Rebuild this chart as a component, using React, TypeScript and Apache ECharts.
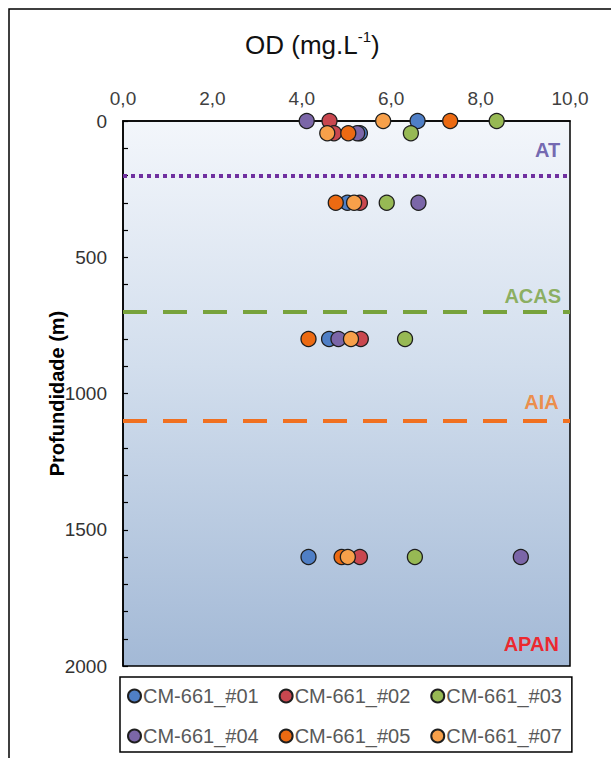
import React, { useEffect, useRef } from "react";
import * as echarts from "echarts";

// Sampling depths (m)
const depths = [0, 45, 300, 800, 1600];

// Dissolved oxygen (mg/L) per station, one value per depth
const seriesNames = ["CM-661_#01", "CM-661_#02", "CM-661_#03", "CM-661_#04", "CM-661_#05", "CM-661_#07"];
const st01 = [6.59, 5.3, 5.02, 4.61, 4.15];
const st02 = [4.62, 4.72, 5.3, 5.32, 5.3];
const st03 = [8.36, 6.44, 5.9, 6.31, 6.53];
const st04 = [4.11, 5.24, 6.61, 4.82, 8.9];
const st05 = [7.32, 5.04, 4.76, 4.15, 4.89];
const st07 = [5.82, 4.57, 5.17, 5.1, 5.03];
const stationValues = [st01, st02, st03, st04, st05, st07];
const stationColors = ["#4f7fc6", "#c9474f", "#97b954", "#7b66a8", "#ec6a12", "#f7a04a"];

// Water-mass boundaries (m)
const boundaryDepths = [200, 700, 1100];
const boundaryColors = ["#7030a0", "#77a23c", "#f07020"];
const boundaryDash = [[4, 4], [24, 16], [24, 16]];

// Water-mass labels
const massNames = ["AT", "ACAS", "AIA", "APAN"];
const massDepths = [106, 642, 1031, 1919];
const massX = [9.78, 9.8, 9.75, 9.75];
const massColors = ["#54449e", "#76a03a", "#f47a22", "#ff0000"];

const xTicks = { min: 0, max: 10, interval: 2 };
const yTicks = { min: 0, max: 2000, interval: 500 };

export default function App() {
  const ref = useRef<HTMLDivElement>(null);
  useEffect(() => {
    if (!ref.current) return;
    const chart = echarts.init(ref.current, null, { renderer: "svg" });
    const font = "Liberation Sans, Arial, sans-serif";

    const stationSeries = seriesNames.map((name, i) => ({
      name,
      type: "scatter",
      symbol: "circle",
      symbolSize: 15,
      clip: false,
      z: 3,
      itemStyle: { color: stationColors[i], borderColor: "#1e1e1e", borderWidth: 1.3, opacity: 1 },
      data: stationValues[i].map((v, j) => [v, depths[j]]),
      ...(i === 0
        ? {
            markLine: {
              silent: true,
              symbol: ["none", "none"],
              label: { show: false },
              animation: false,
              z: 2,
              data: boundaryDepths.map((d, k) => ({
                yAxis: d,
                lineStyle: { color: boundaryColors[k], width: 4, type: boundaryDash[k], opacity: 1 },
              })),
            },
          }
        : {}),
    }));

    const labelSeries = {
      name: "massas",
      type: "scatter",
      symbolSize: 0,
      silent: true,
      clip: false,
      z: 4,
      data: massNames.map((n, i) => ({
        name: n,
        value: [massX[i], massDepths[i]],
        label: {
          show: true,
          position: "left",
          distance: 0,
          formatter: n,
          color: massColors[i],
          fontSize: 20,
          fontWeight: "bold",
          fontFamily: font,
        },
      })),
    };

    chart.setOption({
      animation: false,
      backgroundColor: "#ffffff",
      title: {
        text: "{a|OD (mg.L}{s|-1}{a|)}",
        left: 240,
        top: 24,
        textStyle: {
          fontWeight: "normal",
          rich: {
            a: { fontSize: 26, fontWeight: "normal", fontFamily: font, color: "#111", lineHeight: 31 },
            s: { fontSize: 15, fontWeight: "normal", fontFamily: font, color: "#111", lineHeight: 31, verticalAlign: "top" },
          },
        },
      },
      graphic: [
        {
          type: "rect",
          shape: { x: 9, y: 9, width: 700, height: 800 },
          style: { fill: "none", stroke: "#000", lineWidth: 1.5 },
          silent: true,
        },
      ],
      grid: {
        left: 123,
        right: 41,
        top: 121,
        bottom: 92,
        show: true,
        borderColor: "#000",
        borderWidth: 1.5,
        backgroundColor: {
          type: "linear",
          x: 0,
          y: 0,
          x2: 0,
          y2: 1,
          colorStops: [
            { offset: 0, color: "#f3f6fb" },
            { offset: 0.45, color: "#d2deed" },
            { offset: 1, color: "#a3b9d6" },
          ],
        },
      },
      xAxis: {
        type: "value",
        position: "top",
        min: xTicks.min,
        max: xTicks.max,
        interval: xTicks.interval,
        axisLine: { show: true, lineStyle: { color: "#000", width: 1.5 } },
        axisTick: { show: false },
        splitLine: { show: false },
        axisLabel: {
          margin: 13,
          fontSize: 19,
          color: "#404040",
          fontFamily: font,
          formatter: (v: number) => v.toFixed(1).replace(".", ","),
        },
      },
      yAxis: {
        type: "value",
        inverse: true,
        min: yTicks.min,
        max: yTicks.max,
        interval: yTicks.interval,
        name: "Profundidade (m)",
        nameLocation: "middle",
        nameRotate: 90,
        nameGap: 56,
        nameMoveOverlap: false,
        nameTextStyle: { fontSize: 20, fontWeight: "bold", color: "#000", fontFamily: font },
        axisLine: { show: true, lineStyle: { color: "#000", width: 1.5 } },
        axisTick: { show: true, inside: true, length: 5, lineStyle: { color: "#000", width: 1.2 } },
        minorTick: { show: true, splitNumber: 5, length: 5, lineStyle: { color: "#000", width: 1.2 } },
        splitLine: { show: false },
        axisLabel: {
          margin: 16,
          fontSize: 19,
          color: "#333",
          fontFamily: font,
          formatter: (v: number) => String(v),
        },
      },
      legend: {
        data: seriesNames,
        left: 120,
        top: 677,
        width: 448,
        orient: "horizontal",
        padding: [9, 10, 6, 7],
        itemGap: 20,
        itemWidth: 13,
        itemHeight: 13,
        icon: "circle",
        borderColor: "#000",
        borderWidth: 1.5,
        textStyle: { fontSize: 20, color: "#595959", fontFamily: font, lineHeight: 17, padding: [0, 0, 0, -3] },
      },
      series: [...stationSeries, labelSeries],
    });
    return () => chart.dispose();
  }, []);
  return <div ref={ref} style={{ position: "absolute", left: 0, top: 0, width: 611, height: 758 }} />;
}
